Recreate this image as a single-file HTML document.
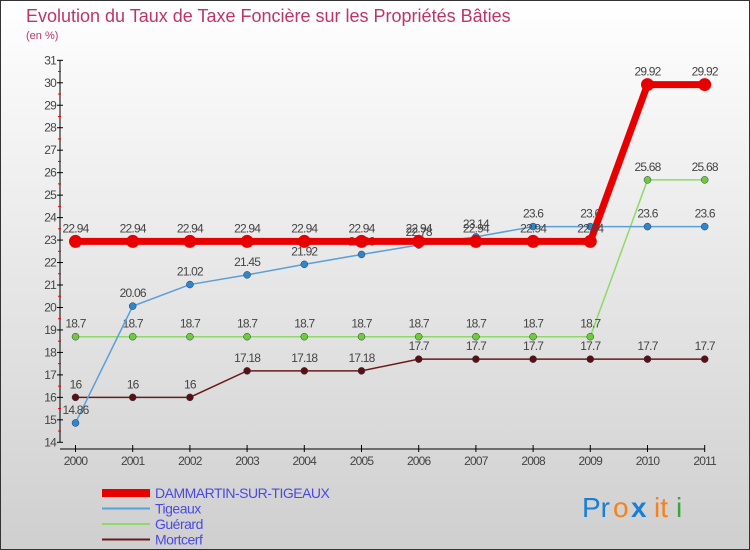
<!DOCTYPE html>
<html><head><meta charset="utf-8"><style>
body{margin:0}
#c{width:750px;height:550px;position:relative;font-family:"Liberation Sans",sans-serif;overflow:hidden}
</style></head><body>
<div id="c">
<svg id="s" width="750" height="550" xmlns="http://www.w3.org/2000/svg">
<defs><linearGradient id="bg" x1="0" y1="0" x2="0" y2="1"><stop offset="0" stop-color="#ffffff"/><stop offset="1" stop-color="#cfcfcf"/></linearGradient></defs>
<rect x="0.5" y="0.5" width="749" height="549" fill="url(#bg)" stroke="#333"/>
<text x="26" y="22" font-size="18" fill="#c0336a">Evolution du Taux de Taxe Foncière sur les Propriétés Bâties</text>
<text x="26" y="39" font-size="11" fill="#c0336a">(en %)</text>
<g id="axes"></g><g id="series"></g><g id="legend"></g>
<g font-size="28" font-family="Liberation Sans,sans-serif">
<text x="582" y="517" fill="#1a7fd4">Pr</text><text x="613" y="517" fill="#f58220">o</text><text x="631" y="517" fill="#1a7fd4" font-weight="bold">x</text><text x="654" y="517" fill="#f58220">it</text><text x="676" y="517" fill="#3aa53a">i</text>
</g>
</svg>
</div>
<script>
const years=[2000,2001,2002,2003,2004,2005,2006,2007,2008,2009,2010,2011];
const yTicks=[14,15,16,17,18,19,20,21,22,23,24,25,26,27,28,29,30,31];
const names=["DAMMARTIN-SUR-TIGEAUX","Tigeaux","Guérard","Mortcerf"];
const dammartin=[22.94,22.94,22.94,22.94,22.94,22.94,22.94,22.94,22.94,22.94,29.92,29.92];
const tigeaux=[14.86,20.06,21.02,21.45,21.92,22.36,22.78,23.14,23.6,23.6,23.6,23.6];
const guerard=[18.7,18.7,18.7,18.7,18.7,18.7,18.7,18.7,18.7,18.7,25.68,25.68];
const mortcerf=[16,16,16,17.18,17.18,17.18,17.7,17.7,17.7,17.7,17.7,17.7];
const NS="http://www.w3.org/2000/svg";
const X=i=>75.5+i*57.2;
const Y=v=>442.3-(v-14)*22.47;
function mk(p,t,a){const e=document.createElementNS(NS,t);for(const k in a)e.setAttribute(k,a[k]);p.appendChild(e);return e;}
const ax=document.getElementById('axes');
const yl=mk(ax,'line',{x1:60,y1:Y(31),x2:60,y2:Y(14),stroke:'#000'});


yTicks.forEach(v=>{
 mk(ax,'line',{x1:57,y1:Y(v),x2:63,y2:Y(v),stroke:'#000'});
 if(v<31) mk(ax,'line',{x1:58,y1:Y(v+0.5),x2:61,y2:Y(v+0.5),stroke:'#e00'});
 const t=mk(ax,'text',{x:56,y:Y(v)+4,'text-anchor':'end','font-size':12,fill:'#444','letter-spacing':'-0.8'});
 t.textContent=v;
 
 
});
const xl=mk(ax,'line',{x1:60,y1:449,x2:X(11),y2:449,stroke:'#000'});


years.forEach((y,i)=>{
 mk(ax,'line',{x1:X(i),y1:445,x2:X(i),y2:452,stroke:'#000'});
 const t=mk(ax,'text',{x:X(i),y:465,'text-anchor':'middle','font-size':12,fill:'#444','letter-spacing':'-0.8'});
 t.textContent=y;
 
 
});
const se=document.getElementById('series');
const defs=[[mortcerf,'#6b1a1a','#5a1010',1.5,3.5],[guerard,'#8fd96a','#6ccc3a',1.5,3.5],[tigeaux,'#5aa0d8','#2f86cc',1.5,3.5],[dammartin,'#e80000','#e80000',7,6.5]];
const snames=['series-mortcerf','series-guerard','series-tigeaux','series-dammartin'];
defs.forEach((d,k)=>{
 const g=mk(se,'g',{});
 
 
 mk(g,'polyline',{points:d[0].map((v,i)=>X(i)+','+Y(v)).join(' '),fill:'none',stroke:d[1],'stroke-width':d[3]});
 d[0].forEach((v,i)=>{
  const c=mk(g,'circle',{cx:X(i),cy:Y(v),r:d[4],fill:d[2],stroke:k==3?'none':'#335','stroke-width':0.5});
  
  
  const t=mk(g,'text',{x:X(i),y:Y(v)-9,'text-anchor':'middle','font-size':12,fill:'#444','letter-spacing':'-0.8'});
  t.textContent=String(v);
  
  
 });
});
const lg=document.getElementById('legend');
const lc=[['#e80000',8],['#5aa0d8',2],['#8fd96a',2],['#6b1a1a',2]];
names.forEach((n,i)=>{
 const y=493+i*15.5;
 const g=mk(lg,'g',{});
 
 
 mk(g,'line',{x1:102,y1:y,x2:150,y2:y,stroke:lc[i][0],'stroke-width':lc[i][1]});
 const t=mk(g,'text',{x:155,y:y+5,'font-size':14,fill:'#4a4ae0','letter-spacing':'-0.5'});
 t.textContent=n;
});
</script>
</body></html>
